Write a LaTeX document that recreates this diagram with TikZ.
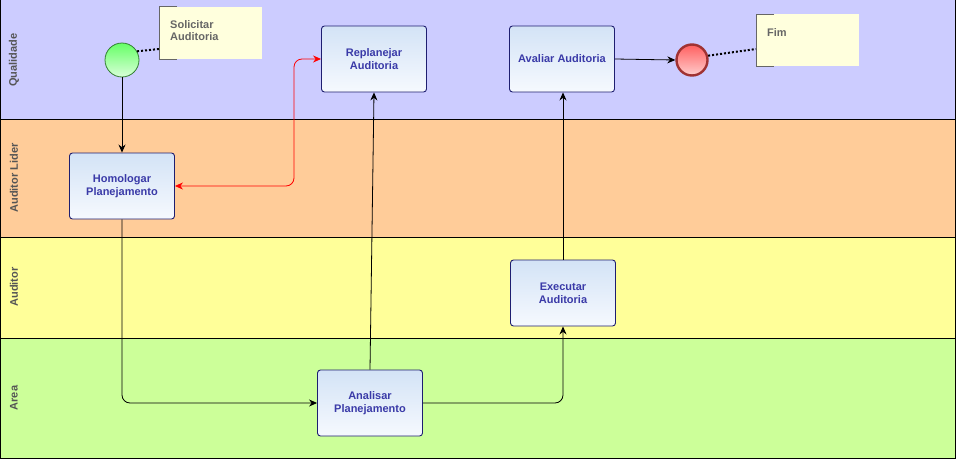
\documentclass[tikz,border=0pt]{standalone}
\usepackage{fontspec}
\setmainfont{Liberation Sans}
\usetikzlibrary{arrows.meta,calc}
\definecolor{lqual}{HTML}{CCCCFF}
\definecolor{llider}{HTML}{FFCC99}
\definecolor{laud}{HTML}{FFFF99}
\definecolor{larea}{HTML}{CCFF99}
\definecolor{taskborder}{HTML}{1E1E70}
\definecolor{tasktop}{HTML}{D3E3F6}
\definecolor{taskbot}{HTML}{F6F9FE}
\definecolor{tasktext}{HTML}{3A3AA8}
\definecolor{annfill}{HTML}{FFFFDD}
\definecolor{anntext}{HTML}{666666}
\definecolor{lanetext}{HTML}{555555}
\begin{document}
\begin{tikzpicture}[x=1pt,y=-1pt,
  task/.style={draw=taskborder, line width=0.9pt, rounded corners=3pt, top color=tasktop, bottom color=taskbot,
    minimum width=105pt, minimum height=66pt, align=center, text=tasktext,
    font=\fontsize{11}{13}\selectfont\bfseries, inner sep=2pt},
  flow/.style={draw=black, line width=0.8pt, -{Stealth[length=8pt,width=7pt]}, rounded corners=8pt},
  lanelabel/.style={rotate=90, text=lanetext, font=\fontsize{11}{13}\selectfont\bfseries},
  annbox/.style={fill=annfill, minimum width=103pt, inner sep=0pt},
  anntxt/.style={text=anntext, font=\fontsize{11}{13}\selectfont\bfseries, align=left, inner sep=0pt, anchor=north west},
  dotline/.style={line width=2pt, dotted, line cap=butt},
]
\useasboundingbox (0,0) rectangle (966,474);
% lanes
\fill[lqual] (0,0) rectangle (955,119);
\fill[llider] (0,119) rectangle (955,237);
\fill[laud] (0,237) rectangle (955,338);
\fill[larea] (0,338) rectangle (955,458);
\draw[line width=1pt] (0.5,0) -- (0.5,458) -- (955,458) -- (955,0);
\draw[line width=1pt] (0,119) -- (955,119) (0,237) -- (955,237) (0,338) -- (955,338);
\node[lanelabel] (lq) at (14,60) {Qualidade};
\node[lanelabel] (ll) at (14,178) {Auditor Lider};
\node[lanelabel] (la) at (14,287) {Auditor};
\node[lanelabel] (lr) at (14,398) {Area};

% annotations
\node[annbox, minimum height=52pt, anchor=north west] (sol) at (159,7) {};
\draw[anntext, line width=0.8pt] ($(sol.north west)+(18,-1)$) -- ($(sol.north west)+(0,-1)$) -- (sol.south west) -- ($(sol.south west)+(18,0)$);
\node[anntxt] (soltxt) at ($(sol.north west)+(11,13)$) {Solicitar\\[-0.5pt]Auditoria};

\node[annbox, minimum height=52pt, anchor=north west] (fim) at (756,14) {};
\draw[anntext, line width=0.8pt] ($(fim.north west)+(18,0)$) -- (fim.north west) -- (fim.south west) -- ($(fim.south west)+(18,0)$);
\node[anntxt] (fimtxt) at ($(fim.north west)+(11,14)$) {Fim};

% events
\node[circle, draw=black!50!green!60!gray, line width=0.8pt, top color=green!60!white, bottom color=green!15!white, minimum size=34pt, inner sep=0pt] (start) at (122,60) {};
\node[circle, draw={rgb,255:red,160;green,50;blue,50}, line width=2.4pt, top color={rgb,255:red,255;green,95;blue,95}, bottom color={rgb,255:red,255;green,205;blue,205}, minimum size=31pt, inner sep=0pt] (end) at (692,60) {};

% tasks
\node[task] (rep) at (374,59) {Replanejar\\Auditoria};
\node[task] (ava) at (562,59) {Avaliar Auditoria};
\node[task] (hom) at (122,186) {Homologar\\Planejamento};
\node[task] (exe) at (563,293) {Executar\\Auditoria};
\node[task] (ana) at (370,403) {Analisar\\Planejamento};

% associations
\draw[dotline] (start.30) -- (sol.west |- 0,49);
\coordinate (fimin) at (756,49);
\draw[dotline] (end.15) -- (fimin);

% flows
\draw[flow] (start) -- (hom);
\draw[flow] (hom.south) |- (ana.west);
\draw[flow] (ana.north) -- (rep.south);
\draw[flow] (ana.east) -| (exe.south);
\draw[flow] (exe.north) -- (exe.north |- ava.south);
\draw[flow] (ava.east) -- (end.west);
\coordinate (rc) at (294,120);
\draw[red, line width=0.8pt, {Stealth[length=8pt,width=7pt]}-{Stealth[length=8pt,width=7pt]}, rounded corners=8pt] (hom.east) -| (rc) |- (rep.west);
\end{tikzpicture}
\end{document}
